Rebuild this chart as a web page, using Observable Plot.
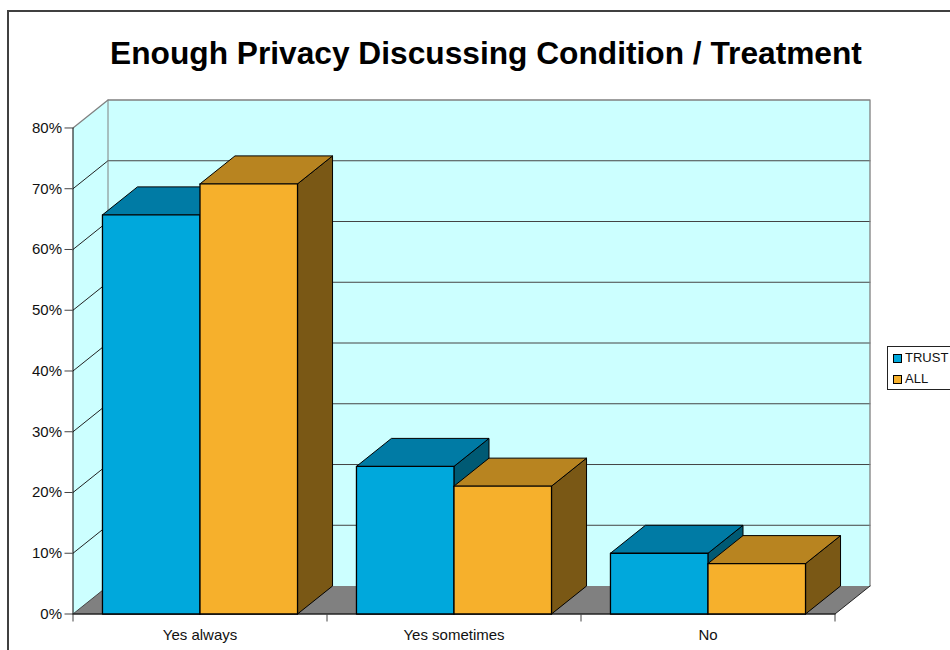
<!DOCTYPE html>
<html>
<head>
<meta charset="utf-8">
<script src="https://cdn.jsdelivr.net/npm/d3@7"></script>
<script src="https://cdn.jsdelivr.net/npm/@observablehq/plot@0.6"></script>
<style>
  html, body { margin: 0; padding: 0; background: #fff; overflow: hidden; }
  #chart { position: relative; width: 950px; height: 650px; overflow: hidden; font-family: "Liberation Sans", Arial, sans-serif; color: #111; }
  #chart svg { position: absolute; left: 0; top: 0; }
  #border { position: absolute; left: 7px; top: 10px; width: 1000px; height: 800px; border: 2px solid #404040; }
  #title { position: absolute; left: 11px; width: 950px; top: 35px; text-align: center; font-weight: bold; font-size: 31.7px; line-height: 36px; color: #000; }
  #legend { position: absolute; left: 887px; top: 346px; width: 100px; height: 42px; border: 1px solid #222; background: #fff; font-size: 13px; }
  .key { position: absolute; left: 5px; display: flex; align-items: center; gap: 3px; line-height: 14px; height: 14px; }
  .swatch { width: 7px; height: 7px; border: 1px solid #000; display: inline-block; }
</style>
</head>
<body>
<div id="chart">
  <div id="border"></div>
  <div id="plot"></div>
  <div id="title">Enough Privacy Discussing Condition / Treatment</div>
  <div id="legend">
    <div class="key" style="top:4px"><span class="swatch" style="background:#00a8dc"></span>TRUST</div>
    <div class="key" style="top:25px"><span class="swatch" style="background:#f6b02c"></span>ALL</div>
  </div>
</div>
<script>
// Survey shares, in percent
const categories = ["Yes always", "Yes sometimes", "No"];
const trust = [65.7, 24.3, 10.0];
const all = [70.8, 21.05, 8.3];
const yTicks = [0, 10, 20, 30, 40, 50, 60, 70, 80];

// Oblique depth of the box, in scale units
const depthX = 35 / 254;
const depthY = 28 / 6.08;
const barInset = 0.116;
const barWidth = 0.384;

const wallColor = "#ccffff";
const floorColor = "#808080";
const trustFaces = { front: "#00a8dc", top: "#007ba5", side: "#005a74" };
const allFaces = { front: "#f6b02c", top: "#b88420", side: "#7a5815" };

// One filled polygon through the chart's own scales
const face = (pts, fill, stroke = "#000", strokeWidth = 1) =>
  Plot.line(pts, { x: d => d[0], y: d => d[1], curve: "linear-closed", fill, stroke, strokeWidth });

// One open polyline through the chart's own scales
const edge = (pts, stroke, strokeWidth = 1) =>
  Plot.line(pts, { x: d => d[0], y: d => d[1], stroke, strokeWidth });

const xMax = categories.length;

function bar(x0, value, faces) {
  const x1 = x0 + barWidth;
  return [
    face([[x1, 0], [x1 + depthX, depthY], [x1 + depthX, value + depthY], [x1, value]], faces.side),
    face([[x0, value], [x0 + depthX, value + depthY], [x1 + depthX, value + depthY], [x1, value]], faces.top),
    face([[x0, 0], [x1, 0], [x1, value], [x0, value]], faces.front, "#000", 1.3)
  ];
}

const bars = categories.flatMap((c, i) => [
  ...bar(i + barInset, trust[i], trustFaces),
  ...bar(i + barInset + barWidth, all[i], allFaces)
]);

const plot = Plot.plot({
  width: 950,
  height: 650,
  marginLeft: 72.5,
  marginRight: 80.5,
  marginBottom: 36.5,
  marginTop: 99.5,
  style: { fontFamily: "'Liberation Sans', Arial, sans-serif", fontSize: "15px", color: "#111", background: "transparent", overflow: "visible" },
  x: { type: "linear", domain: [0, xMax + depthX] },
  y: { type: "linear", domain: [0, 80 + depthY] },
  marks: [
    // walls and floor
    face([[0, 0], [depthX, depthY], [depthX, 80 + depthY], [0, 80]], wallColor, "none"),
    face([[depthX, depthY], [xMax + depthX, depthY], [xMax + depthX, 80 + depthY], [depthX, 80 + depthY]], wallColor, "none"),
    face([[0, 0], [depthX, depthY], [xMax + depthX, depthY], [xMax, 0]], floorColor, "none"),
    // gridlines on the back and side walls
    ...yTicks.slice(1, -1).flatMap(v => [
      edge([[depthX, v + depthY], [xMax + depthX, v + depthY]], "#444"),
      edge([[0, v], [depthX, v + depthY]], "#222")
    ]),
    // wall outline
    edge([[0, 80], [depthX, 80 + depthY], [xMax + depthX, 80 + depthY], [xMax + depthX, depthY]], "#808080", 1.3),
    edge([[depthX, depthY], [depthX, 80 + depthY]], "#808080"),
    edge([[xMax, 0], [xMax + depthX, depthY]], "#222"),
    edge([[0, 0], [depthX, depthY]], "#444"),
    edge([[0, 0], [0, 80]], "#000"),
    edge([[0, 0], [xMax, 0]], "#222", 1.3),
    // bars, left to right so nearer faces overlap
    ...bars,
    // axes
    Plot.axisY({ ticks: yTicks, tickFormat: d => d + "%", tickSize: 8, tickPadding: 3, label: null, stroke: "#444", fontSize: 15 }),
    Plot.axisX({ ticks: [0, 1, 2, 3], tickFormat: () => "", tickSize: 8, label: null, stroke: "#444" }),
    Plot.axisX({ ticks: categories.map((c, i) => i + 0.5), tickFormat: d => categories[d - 0.5], tickSize: 0, tickPadding: 15, label: null, fontSize: 15 })
  ]
});
document.getElementById("plot").append(plot);
</script>
</body>
</html>
